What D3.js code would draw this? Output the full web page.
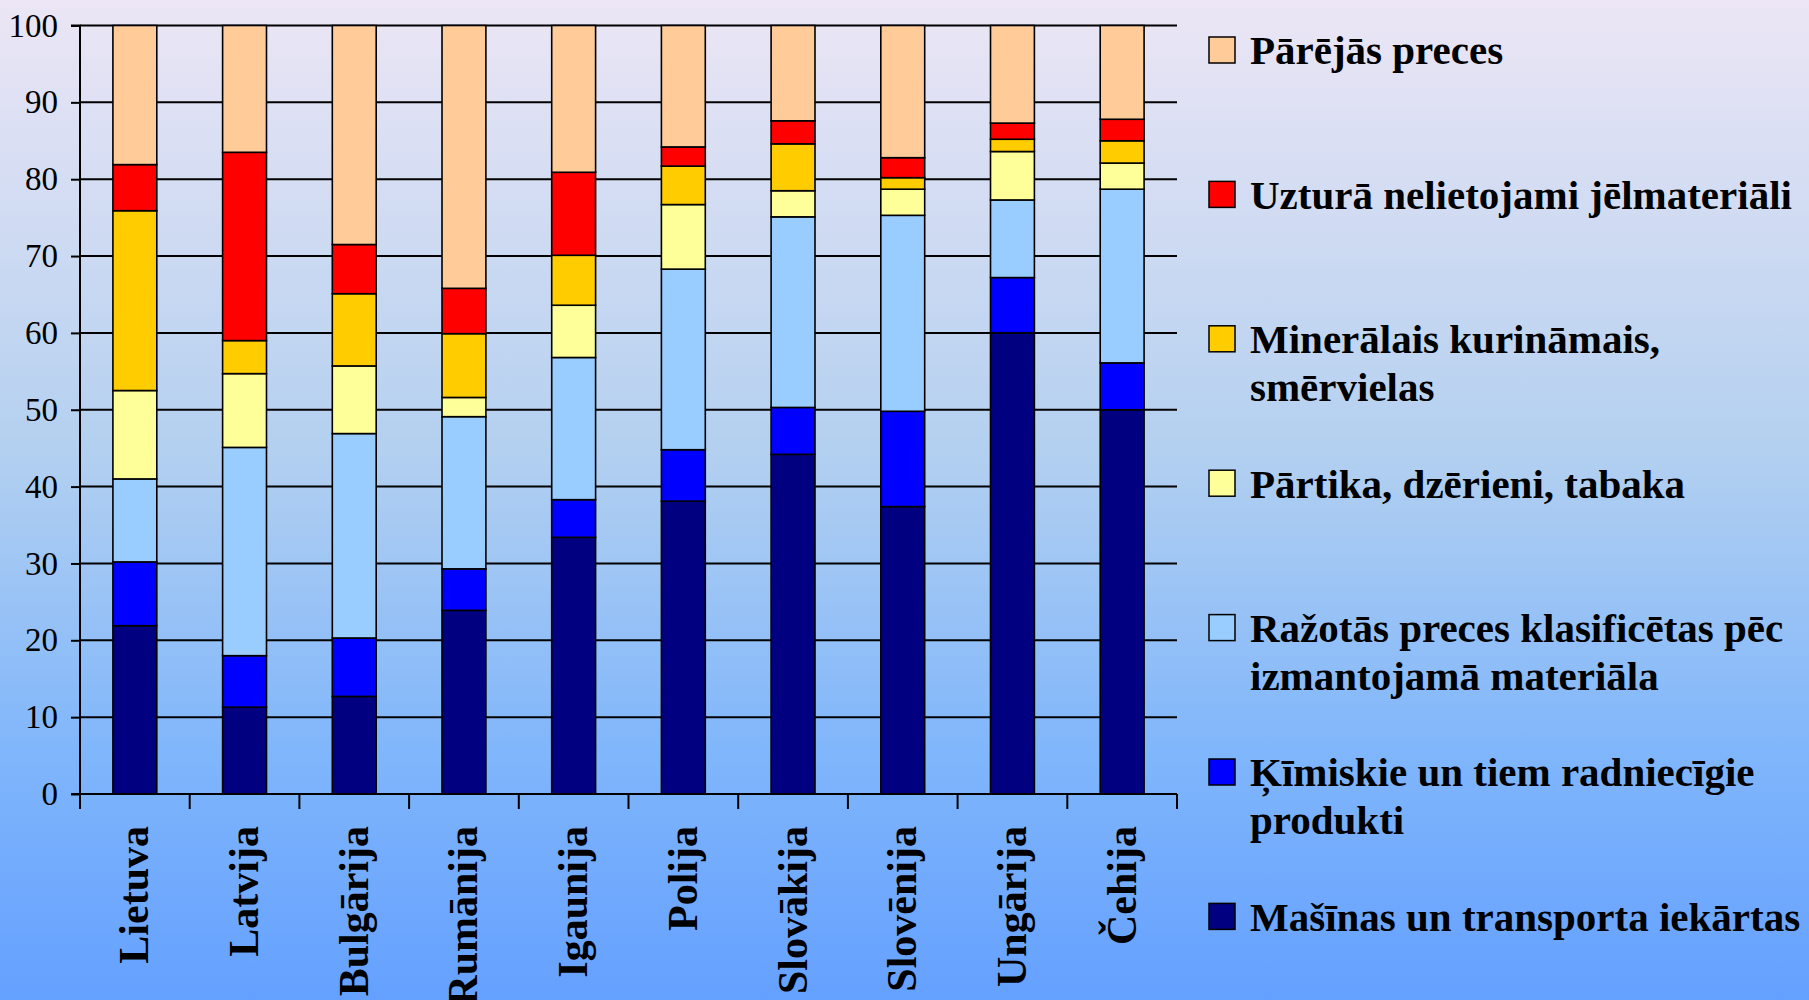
<!DOCTYPE html>
<html>
<head>
<meta charset="utf-8">
<script src="https://cdn.jsdelivr.net/npm/d3@7"></script>
<style>
	html, body { margin: 0; padding: 0; }
	svg { display: block; }
	text { font-family: "Liberation Serif", "Times New Roman", serif; }
	.grid line { stroke: #000; stroke-width: 2; }
	.bar rect { stroke: #000; stroke-width: 1.6; }
</style>
</head>
<body>
<svg id="chart" width="1809" height="1000"></svg>
<script>
// countries, left to right
const categories = ["Lietuva", "Latvija", "Bulgārija", "Rumānija", "Igaunija",
	"Polija", "Slovākija", "Slovēnija", "Ungārija", "Čehija"];

// shares in %, one array per goods group (stack order bottom -> top)
const masinas    = [21.9, 11.3, 12.7, 23.9, 33.4, 38.1, 44.2, 37.4, 60.0, 50.0];
const kimiskie   = [ 8.3,  6.7,  7.6,  5.4,  4.9,  6.7,  6.1, 12.4,  7.2,  6.1];
const razotas    = [10.8, 27.1, 26.6, 19.8, 18.5, 23.5, 24.8, 25.5, 10.1, 22.6];
const partika    = [11.5,  9.6,  8.8,  2.5,  6.8,  8.4,  3.4,  3.4,  6.3,  3.4];
const mineralais = [23.4,  4.3,  9.4,  8.3,  6.5,  5.0,  6.1,  1.5,  1.6,  2.9];
const uztura     = [ 6.0, 24.5,  6.4,  5.9, 10.8,  2.5,  3.0,  2.6,  2.1,  2.8];
const parejas    = [18.1, 16.5, 28.5, 34.2, 19.1, 15.8, 12.4, 17.2, 12.7, 12.2];

const seriesKeys = ["masinas", "kimiskie", "razotas", "partika", "mineralais", "uztura", "parejas"];
const seriesLabels = [
	["Mašīnas un transporta iekārtas"],
	["Ķīmiskie un tiem radniecīgie", "produkti"],
	["Ražotās preces klasificētas pēc", "izmantojamā materiāla"],
	["Pārtika, dzērieni, tabaka"],
	["Minerālais kurināmais,", "smērvielas"],
	["Uzturā nelietojami jēlmateriāli"],
	["Pārējās preces"]
];
const seriesColors = ["#000080", "#0000ff", "#99ccff", "#ffff99", "#ffcc00", "#ff0000", "#ffcc99"];
const yTicks = [0, 10, 20, 30, 40, 50, 60, 70, 80, 90, 100];

const values = { masinas, kimiskie, razotas, partika, mineralais, uztura, parejas };
const table = categories.map((c, i) => {
	const row = { country: c };
	seriesKeys.forEach(k => row[k] = values[k][i]);
	return row;
});

const svg = d3.select("#chart");
const W = 1809, H = 1000;
const plot = { left: 80, right: 1177, top: 25.5, bottom: 794 };

// background gradient
const defs = svg.append("defs");
const grad = defs.append("linearGradient").attr("id", "bg")
	.attr("x1", 0).attr("y1", 0).attr("x2", 0).attr("y2", 1);
grad.append("stop").attr("offset", "0%").attr("stop-color", "#ece6f5");
grad.append("stop").attr("offset", "45%").attr("stop-color", "#b3d0f0");
grad.append("stop").attr("offset", "75%").attr("stop-color", "#80b6fb");
grad.append("stop").attr("offset", "100%").attr("stop-color", "#64a0ff");
svg.append("rect").attr("width", W).attr("height", H).attr("fill", "url(#bg)");

const x = d3.scaleBand().domain(categories).range([plot.left, plot.right]).paddingInner(0.6).paddingOuter(0.3);
const y = d3.scaleLinear().domain([0, 100]).range([plot.bottom, plot.top]);

// horizontal grid
svg.append("g").attr("class", "grid")
	.selectAll("line").data(yTicks.slice(1)).join("line")
	.attr("x1", plot.left).attr("x2", plot.right)
	.attr("y1", d => y(d)).attr("y2", d => y(d));

// stacked bars
const stack = d3.stack().keys(seriesKeys)(table);
svg.append("g").selectAll("g").data(stack).join("g")
	.attr("class", "bar")
	.attr("fill", (d, i) => seriesColors[i])
	.selectAll("rect").data(d => d).join("rect")
	.attr("x", d => x(d.data.country))
	.attr("width", x.bandwidth())
	.attr("y", d => y(d[1]))
	.attr("height", d => y(d[0]) - y(d[1]));

// y axis
const yAxis = d3.axisLeft(y).tickValues(yTicks).tickSize(9).tickPadding(13);
const yg = svg.append("g").attr("transform", `translate(${plot.left},0)`).call(yAxis);
yg.select(".domain").attr("stroke", "#000").attr("stroke-width", 2).attr("d", `M-9,${plot.top}H0V${plot.bottom}`);
yg.selectAll(".tick line").attr("stroke", "#000").attr("stroke-width", 2);
yg.selectAll(".tick text")
	.attr("fill", "#000")
	.style("font-size", "33px");

// x axis: ticks between categories
const step = x.step();
const xBoundaries = d3.range(categories.length + 1).map(i => plot.left + i * step);
const xg = svg.append("g");
xg.append("line").attr("x1", plot.left - 9).attr("x2", plot.right)
	.attr("y1", plot.bottom).attr("y2", plot.bottom)
	.attr("stroke", "#000").attr("stroke-width", 2);
xg.selectAll(".xt").data(xBoundaries).join("line")
	.attr("class", "xt")
	.attr("x1", d => d).attr("x2", d => d)
	.attr("y1", plot.bottom).attr("y2", plot.bottom + 15)
	.attr("stroke", "#000").attr("stroke-width", 2);

xg.selectAll(".xl").data(categories).join("text")
	.attr("class", "xl")
	.attr("transform", d => `translate(${x(d) + x.bandwidth() / 2 + 13.5},826) rotate(-90)`)
	.attr("text-anchor", "end")
	.style("font-size", "42px")
	.style("font-weight", "bold")
	.text(d => d);

// legend, top entry = top of stack
const legend = svg.append("g").attr("transform", "translate(1209,0)");
const legendRows = seriesKeys.map((k, i) => i).reverse();
legendRows.forEach((si, r) => {
	const cy = 50 + r * 144.4;
	const g = legend.append("g");
	g.append("rect")
		.attr("x", 0).attr("y", cy - 13)
		.attr("width", 26).attr("height", 26)
		.attr("fill", seriesColors[si])
		.attr("stroke", "#000").attr("stroke-width", 1.5);
	seriesLabels[si].forEach((line, li) => {
		g.append("text")
			.attr("x", 41).attr("y", cy + li * 48)
			.attr("dy", "0.35em")
			.style("font-size", "41px")
			.style("font-weight", "bold")
			.text(line);
	});
});
</script>
</body>
</html>
